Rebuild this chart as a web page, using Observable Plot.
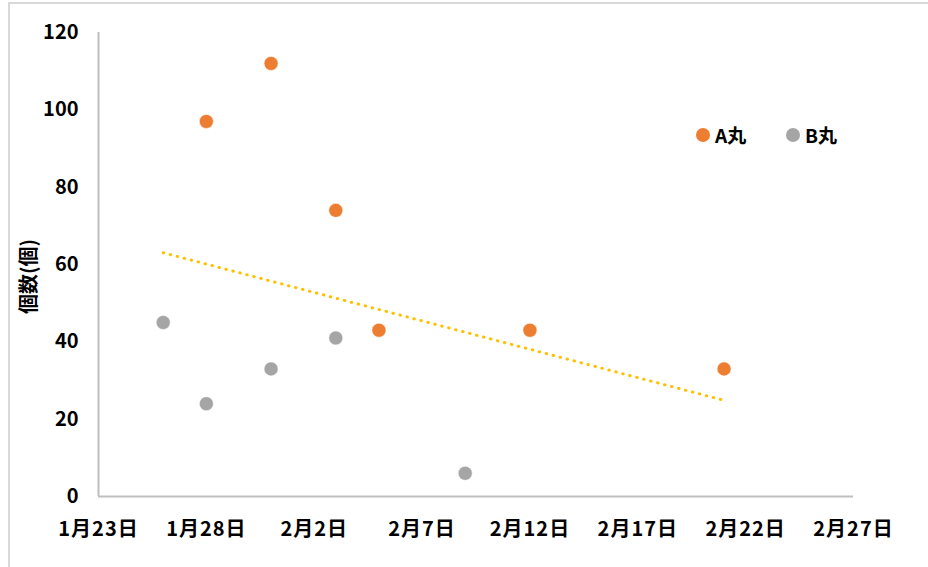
<!DOCTYPE html>
<html>
<head>
<meta charset="utf-8">
<script src="https://cdn.jsdelivr.net/npm/d3@7"></script>
<script src="https://cdn.jsdelivr.net/npm/@observablehq/plot@0.6"></script>
<style>
  html, body { margin: 0; padding: 0; background: #fff; }
  #wrap { position: relative; width: 928px; height: 567px; overflow: hidden; }
  #frame { position: absolute; left: 8px; top: 2px; width: 940px; height: 600px; border: 2px solid #d9d9d9; box-sizing: border-box; pointer-events: none; }
  .legend { position: absolute; top: 121px; font: bold 19px "Noto Sans CJK JP", sans-serif; color: #000; display: flex; align-items: center; white-space: nowrap; }
  .legend span.dot { display: inline-block; width: 14px; height: 14px; border-radius: 50%; margin-right: 5px; }
</style>
</head>
<body>
<div id="wrap"><div id="frame"></div></div>
<script>
const seriesNames = ["A丸", "B丸"];
const seriesColors = ["#ED7D31", "#A5A5A5"];
const aDates = ["2023-01-28", "2023-01-31", "2023-02-03", "2023-02-05", "2023-02-12", "2023-02-21"];
const aValues = [97, 112, 74, 43, 43, 33];
const bDates = ["2023-01-26", "2023-01-28", "2023-01-31", "2023-02-03", "2023-02-09"];
const bValues = [45, 24, 33, 41, 6];
const xTicks = ["2023-01-23", "2023-01-28", "2023-02-02", "2023-02-07", "2023-02-12", "2023-02-17", "2023-02-22", "2023-02-27"];
const yTicks = [0, 20, 40, 60, 80, 100, 120];
const yLabel = "個数(個)";
const trendColor = "#FFC000";

const parse = s => new Date(s + "T00:00:00Z");
const data = [
  ...aDates.map((d, i) => ({date: parse(d), value: aValues[i], series: seriesNames[0]})),
  ...bDates.map((d, i) => ({date: parse(d), value: bValues[i], series: seriesNames[1]}))
];
const tickDates = xTicks.map(parse);
const fmt = d => `${d.getUTCMonth() + 1}月${d.getUTCDate()}日`;
const font = '"Noto Sans CJK JP", sans-serif';

const chart = Plot.plot({
  width: 928,
  height: 567,
  marginLeft: 98,
  marginRight: 75,
  marginTop: 32,
  marginBottom: 71,
  style: {fontFamily: font, fontSize: "20px", fontWeight: "bold", color: "#000", background: "transparent"},
  x: {type: "utc", domain: [tickDates[0], tickDates[tickDates.length - 1]]},
  y: {domain: [0, 120]},
  color: {domain: seriesNames, range: seriesColors},
  marks: [
    Plot.axisX({ticks: tickDates, tickFormat: fmt, tickSize: 0, tickPadding: 25, label: null, fontSize: 20, fontWeight: "bold"}),
    Plot.axisY({ticks: yTicks, tickSize: 0, tickPadding: 20, label: null, fontSize: 20, fontWeight: "bold"}),
    Plot.axisY({ticks: [], tickSize: 0, label: yLabel, labelAnchor: "center", labelArrow: "none", labelOffset: 77, fontSize: 20, fontWeight: "bold"}),
    Plot.ruleX([tickDates[0]], {stroke: "#bfbfbf", strokeWidth: 2}),
    Plot.ruleY([0], {stroke: "#bfbfbf", strokeWidth: 2}),
    Plot.linearRegressionY(data, {x: "date", y: "value", stroke: trendColor, strokeWidth: 3, strokeDasharray: "0.5,6.7", strokeLinecap: "round", ci: 0}),
    Plot.dot(data, {x: "date", y: "value", fill: "series", r: 7, stroke: "white", strokeWidth: 0.5})
  ]
});
chart.querySelectorAll("[aria-label='x-axis tick label'] text").forEach(t => t.style.letterSpacing = "1px");
chart.querySelectorAll("[aria-label='y-axis label']").forEach(g => {
  g.querySelectorAll("text").forEach(t => t.style.fontSize = "20px");
  const tr = g.getAttribute("transform") || "";
  g.setAttribute("transform", tr + " translate(0,12)");
});
const wrap = document.getElementById("wrap");
wrap.insertBefore(chart, wrap.firstChild);
chart.style.position = "absolute"; chart.style.left = "0"; chart.style.top = "0";

const legendX = [696, 786];
seriesNames.forEach((name, i) => {
  const el = document.createElement("div");
  el.className = "legend";
  el.style.left = legendX[i] + "px";
  el.innerHTML = `<span class="dot" style="background:${seriesColors[i]}"></span>${name}`;
  wrap.appendChild(el);
});
</script>
</body>
</html>
